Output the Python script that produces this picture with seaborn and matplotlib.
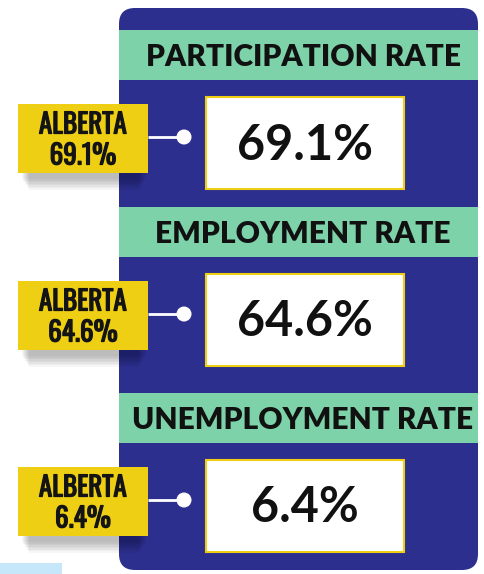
import matplotlib
matplotlib.use('Agg')
import matplotlib.pyplot as plt
import matplotlib.patheffects as pe
from matplotlib.patches import FancyBboxPatch, Rectangle, Circle
import seaborn as sns

# data
categories = ['PARTICIPATION RATE', 'EMPLOYMENT RATE', 'UNEMPLOYMENT RATE']
rates = [69.1, 64.6, 6.4]
alberta_rates = [69.1, 64.6, 6.4]
region = 'ALBERTA'

# colours
BLUE = '#2c2f8e'
MINT = '#7dd2a9'
YELLOW = '#eecf14'

sns.set_theme(style='white')
plt.rcParams['font.family'] = ['Lato', 'DejaVu Sans']
NARROW_FONT = ['Oswald', 'Roboto Condensed', 'Liberation Sans Narrow', 'DejaVu Sans']

W, H = 484, 574
fig = plt.figure(figsize=(W / 100, H / 100), dpi=100)
ax = fig.add_axes([0, 0, 1, 1])
ax.set_xlim(0, W)
ax.set_ylim(H, 0)
ax.axis('off')

# blue panel
ax.add_patch(FancyBboxPatch((119, 8), 359, 562, boxstyle='round,pad=0,rounding_size=16',
                            fc=BLUE, ec='none', zorder=1))

# light blue strip bottom-left
ax.add_patch(Rectangle((0, 563), 62, 11, fc='#c6e7f9', ec='none', zorder=1))

# thicker strokes for the poster-style label font
bold_fx = [pe.withStroke(linewidth=0.9, foreground='#141414')]

band_top = [30, 207, 393]
for i, (cat, val, ab) in enumerate(zip(categories, rates, alberta_rates)):
    y0 = band_top[i]
    # heading band
    ax.add_patch(Rectangle((119, y0), 359, 50, fc=MINT, ec='none', zorder=2))
    ax.text(303, y0 + 27, cat, ha='center', va='center', fontsize=21.5,
            fontweight='heavy', color='#111111', zorder=3)
    # white value box
    by = y0 + 67
    ax.add_patch(Rectangle((206, by), 198, 92, fc='white', ec=YELLOW, lw=1.5, zorder=2))
    ax.text(305, by + 48, f'{val}%', ha='center', va='center', fontsize=35,
            fontweight='bold', color='#111111', zorder=3)
    # connector
    cy = by + 40
    ax.plot([148, 184], [cy, cy], color='white', lw=2, zorder=2, solid_capstyle='butt')
    ax.add_patch(Circle((184, cy), 7.5, fc='white', ec='none', zorder=3))
    # soft shadow under yellow label
    ly = by + 7
    for k in range(8):
        ax.add_patch(Rectangle((22 + k, ly + 6 + k * 1.5), 124 - 2 * k, 69,
                               fc='black', ec='none', alpha=0.035, zorder=2))
    # yellow label
    ax.add_patch(Rectangle((18, ly), 130, 69, fc=YELLOW, ec='none', zorder=3))
    ax.text(83, ly + 21, region, ha='center', va='center', fontsize=19.5,
            fontweight='medium', color='#141414', zorder=5, family=NARROW_FONT,
            path_effects=bold_fx)
    ax.text(83, ly + 52, f'{ab}%', ha='center', va='center', fontsize=19.5,
            fontweight='medium', color='#141414', zorder=5, family=NARROW_FONT,
            path_effects=bold_fx)

fig.savefig('out.png', dpi=100)
